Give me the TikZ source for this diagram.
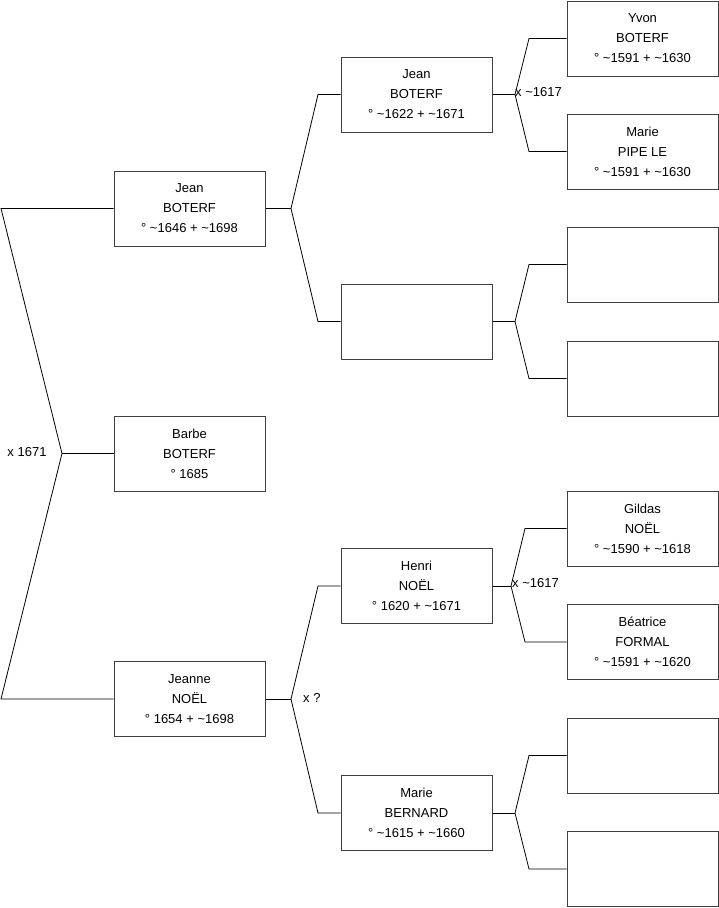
\documentclass[tikz,border=0pt]{standalone}
\usepackage{fontspec}
\setmainfont{Liberation Sans}
\newcommand{\vers}{\textasciitilde}

\begin{document}
\begin{tikzpicture}[x=1pt, y=-1pt,
    pers/.style={draw=black!75, line width=1pt, minimum width=151pt, minimum height=75pt,
        align=center, inner sep=0pt, font=\fontsize{13}{20}\selectfont},
    lien/.style={draw=black, line width=0.8pt},
    mariage/.style={font=\fontsize{13}{15}\selectfont, inner sep=1pt}]
    \useasboundingbox (0,0) rectangle (719,908);

    % generation 1
    \node[pers] (jean1)   at (189.5,208.5) {Jean\\BOTERF\\° \vers1646 + \vers1698};
    \node[pers] (barbe)   at (189.5,453.5) {Barbe\\BOTERF\\° 1685};
    \node[pers] (jeanne)  at (189.5,699)   {Jeanne\\NOËL\\° 1654 + \vers1698};

    % generation 2
    \node[pers] (jean2)   at (416.5,94.5)  {Jean\\BOTERF\\° \vers1622 + \vers1671};
    \node[pers] (vide2)   at (416.5,321.5) {};
    \node[pers] (henri)   at (416.5,586)   {Henri\\NOËL\\° 1620 + \vers1671};
    \node[pers] (marieb)  at (416.5,813)   {Marie\\BERNARD\\° \vers1615 + \vers1660};

    % generation 3
    \node[pers] (yvon)    at (642.5,38.5)  {Yvon\\BOTERF\\° \vers1591 + \vers1630};
    \node[pers] (mariep)  at (642.5,151.5) {Marie\\PIPE LE\\° \vers1591 + \vers1630};
    \node[pers] (videa)   at (642.5,264.5) {};
    \node[pers] (videb)   at (642.5,378.5) {};
    \node[pers] (gildas)  at (642.5,528.5) {Gildas\\NOËL\\° \vers1590 + \vers1618};
    \node[pers] (beatrice) at (642.5,642)  {Béatrice\\FORMAL\\° \vers1591 + \vers1620};
    \node[pers] (videc)   at (642.5,755.5) {};
    \node[pers] (vided)   at (642.5,869)   {};

    % racine
    \coordinate (r1) at (1,208.5);
    \coordinate (r0) at (62,453.5);
    \coordinate (r2) at (1,699);
    \draw[lien] (jean1.west) -- (r1) -- (r0) -- (r2) -- (jeanne.west);
    \draw[lien] (r0) -- (barbe.west);
    \node[mariage] (m0) at (27,452) {x 1671};

    % parents de Jean
    \coordinate (f1) at (291,208.5);
    \draw[lien] (jean1.east) -- (f1);
    \draw[lien] (f1) -- (318,94.5) -- (jean2.west);
    \draw[lien] (f1) -- (318,321.5) -- (vide2.west);

    % parents de Jeanne
    \coordinate (f2) at (291,699);
    \draw[lien] (jeanne.east) -- (f2);
    \draw[lien] (f2) -- (318,586) -- (henri.west);
    \draw[lien] (f2) -- (318,813) -- (marieb.west);
    \node[mariage, anchor=west] (m2) at (302,698) {x ?};

    % generation 3
    \coordinate (g1) at (515,94.5);
    \draw[lien] (jean2.east) -- (g1);
    \draw[lien] (g1) -- (529,38.5) -- (yvon.west);
    \draw[lien] (g1) -- (529,151.5) -- (mariep.west);
    \node[mariage, anchor=west] (m1) at (514,92.5) {x \vers1617};

    \coordinate (g2) at (515,321.5);
    \draw[lien] (vide2.east) -- (g2);
    \draw[lien] (g2) -- (529,264.5) -- (videa.west);
    \draw[lien] (g2) -- (529,378.5) -- (videb.west);

    \coordinate (g3) at (511,586);
    \draw[lien] (henri.east) -- (g3);
    \draw[lien] (g3) -- (525,528.5) -- (gildas.west);
    \draw[lien] (g3) -- (525,642) -- (beatrice.west);
    \node[mariage, anchor=west] (m3) at (511,583.5) {x \vers1617};

    \coordinate (g4) at (515,813);
    \draw[lien] (marieb.east) -- (g4);
    \draw[lien] (g4) -- (529,755.5) -- (videc.west);
    \draw[lien] (g4) -- (529,869) -- (vided.west);
\end{tikzpicture}
\end{document}
